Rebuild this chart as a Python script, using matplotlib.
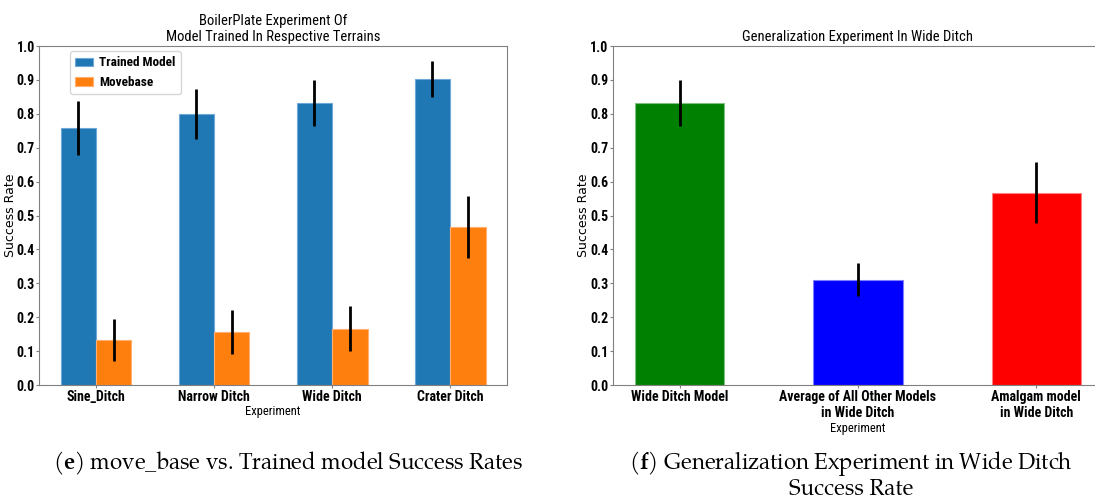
import matplotlib
matplotlib.use("Agg")
import matplotlib.pyplot as plt
import numpy as np

# Left panel: trained model vs move_base per terrain
terrains = ["Sine_Ditch", "Narrow Ditch", "Wide Ditch", "Crater Ditch"]
trained_mean = [0.759, 0.800, 0.833, 0.903]
trained_err = [0.079, 0.073, 0.068, 0.052]
movebase_mean = [0.133, 0.156, 0.166, 0.467]
movebase_err = [0.062, 0.064, 0.067, 0.091]

# Right panel: generalization in the wide ditch
gen_labels = ["Wide Ditch Model", "Average of All Other Models\nin Wide Ditch",
              "Amalgam model\nin Wide Ditch"]
gen_mean = [0.833, 0.311, 0.567]
gen_err = [0.068, 0.049, 0.090]
gen_colors = ["green", "blue", "red"]

plt.rcParams["font.family"] = ["Roboto Condensed", "DejaVu Sans"]
plt.rcParams["mathtext.fontset"] = "custom"
plt.rcParams["mathtext.rm"] = "TeX Gyre Pagella"
plt.rcParams["mathtext.bf"] = "TeX Gyre Pagella:bold"
plt.rcParams["xtick.major.size"] = 2
plt.rcParams["ytick.major.size"] = 2
plt.rcParams["xtick.major.pad"] = 1.5
plt.rcParams["ytick.major.pad"] = 1.2

fig = plt.figure(figsize=(10.95, 5.04), dpi=100)
ax1 = fig.add_axes([0.0359, 0.236, 0.427, 0.6726])
ax2 = fig.add_axes([0.5598, 0.236, 0.4475, 0.6726])

tick_font = dict(fontsize=10, fontweight="bold")
err_kw = dict(ecolor="black", elinewidth=2, capsize=0)


def style_axes(ax):
    for s in ax.spines.values():
        s.set_color("0.5")
    ax.tick_params(color="0.5")
    ax.set_ylim(0, 1.0)
    ticks = np.arange(0, 1.01, 0.1)
    ax.set_yticks(ticks)
    ax.set_yticklabels([f"{v:.1f}" for v in ticks], **tick_font)
    ax.set_ylabel("Success Rate", fontsize=9, family="DejaVu Sans")
    ax.set_xlabel("Experiment", fontsize=9, labelpad=1)
    ax.yaxis.set_label_coords(-0.047, 0.5)


# left chart
x = np.arange(len(terrains))
w = 0.3
ax1.bar(x - w / 2, trained_mean, w, yerr=trained_err, color="#1f77b4",
        edgecolor="#6fa8d6", linewidth=0.8, label="Trained Model", error_kw=err_kw)
ax1.bar(x + w / 2, movebase_mean, w, yerr=movebase_err, color="#ff7f0e",
        edgecolor="#ffb070", linewidth=0.8, label="Movebase", error_kw=err_kw)
ax1.set_xticks(x)
ax1.set_xticklabels(terrains, **tick_font)
style_axes(ax1)
ax1.set_title("BoilerPlate Experiment Of\nModel Trained In Respective Terrains",
              fontsize=10.5, pad=4, linespacing=1.15)
ax1.legend(loc="upper left", bbox_to_anchor=(0.066, 0.985), borderaxespad=0,
           prop=dict(size=9.5, weight="bold"), handlelength=1.3, handleheight=0.6,
           handletextpad=0.5, fancybox=True, framealpha=0.8)

# right chart
xg = np.arange(len(gen_labels))
edge_cols = ["#80c080", "#8080ff", "#ff8080"]
ax2.bar(xg, gen_mean, 0.5, yerr=gen_err, color=gen_colors, edgecolor=edge_cols,
        linewidth=0.8, error_kw=err_kw)
ax2.set_xticks(xg)
ax2.set_xticklabels(gen_labels, linespacing=1.2, **tick_font)
style_axes(ax2)
ax2.set_title("Generalization Experiment In Wide Ditch", fontsize=10.5, pad=4)

# captions
cap = dict(fontsize=16, family="TeX Gyre Pagella", ha="center", va="center")
fig.text(288 / 1095, 1 - 463 / 504, r"($\mathbf{e}$) move_base vs. Trained model Success Rates", **cap)
fig.text(851 / 1095, 1 - 463 / 504, r"($\mathbf{f}$) Generalization Experiment in Wide Ditch", **cap)
fig.text(851 / 1095, 1 - 490 / 504, "Success Rate", **cap)

fig.savefig("out.png", dpi=100)
